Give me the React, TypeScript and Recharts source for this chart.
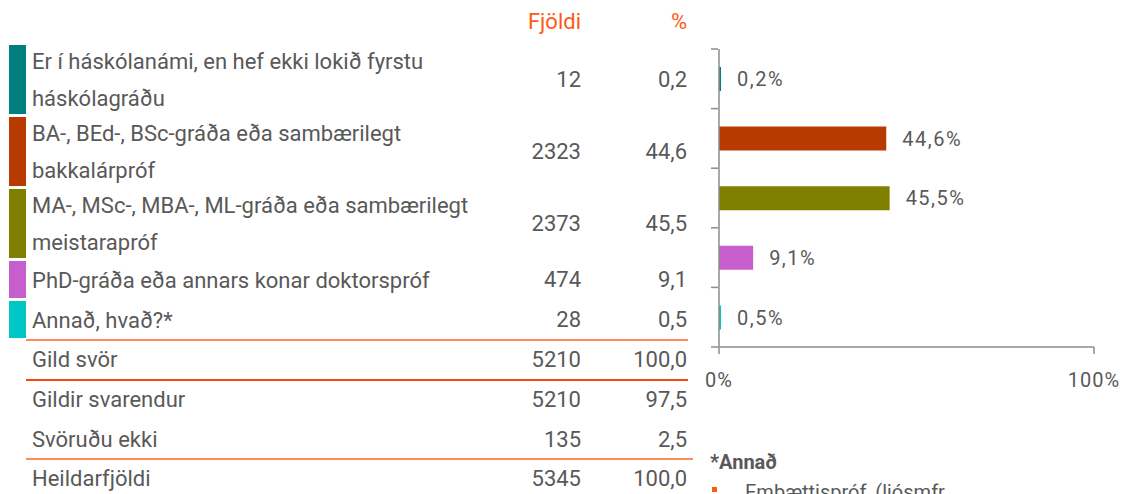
import React from 'react'
import { BarChart, Bar, XAxis, YAxis, Cell, LabelList } from 'recharts'

const categories = [
  'Er í háskólanámi, en hef ekki lokið fyrstu\nháskólagráðu',
  'BA-, BEd-, BSc-gráða eða sambærilegt\nbakkalárpróf',
  'MA-, MSc-, MBA-, ML-gráða eða sambærilegt\nmeistarapróf',
  'PhD-gráða eða annars konar doktorspróf',
  'Annað, hvað?*',
]
const counts = [12, 2323, 2373, 474, 28]
const percents = [0.2, 44.6, 45.5, 9.1, 0.5]
const colors = ['#007f7f', '#b73a00', '#7f7f00', '#c65ecb', '#00c6c6']

const summaryLabels = ['Gild svör', 'Gildir svarendur', 'Svöruðu ekki', 'Heildarfjöldi']
const summaryCounts = [5210, 5210, 135, 5345]
const summaryPercents = [100.0, 97.5, 2.5, 100.0]

const xTicks = [0, 100]
const noteTitle = '*Annað'
const noteItems = ['Embættispróf, (ljósmfr.']

const fmt = (v: number) => v.toFixed(1).replace('.', ',')

const TEXT = '#595959'
const ORANGE = '#ff5a14'
const LIGHT_LINE = '#fc8c5c'
const DARK_LINE = '#f24a0c'
const AXIS = '#8c8c8c'

// row geometry (px)
const rowTops = [45, 117, 189, 261, 301]
const rowHeights = [70, 70, 70, 38, 38]
const summaryCenters = [360, 400, 440, 479]

const font = 'Roboto, "Noto Sans", sans-serif'

// category axis: tick marks sit on the band edges, not the band centres
function EdgeTick(props: any) {
  const { x, y, index, visibleTicksCount, payload } = props
  const half = payload && payload.offset ? payload.offset : 29.8
  const last = index === (visibleTicksCount ?? categories.length) - 1
  return (
    <g>
      <line x1={x} x2={x + 7} y1={y - half} y2={y - half} stroke={AXIS} strokeWidth={1.5} />
      {last && <line x1={x} x2={x + 7} y1={y + half} y2={y + half} stroke={AXIS} strokeWidth={1.5} />}
    </g>
  )
}

export default function App() {
  const data = categories.map((c, i) => ({ name: c, value: percents[i] }))

  const cell = (text: string, right: number, center: number, color = TEXT) => (
    <div
      style={{
        position: 'absolute',
        right: 1122 - right,
        top: center - 15,
        height: 30,
        lineHeight: '30px',
        fontSize: 22,
        color,
        whiteSpace: 'nowrap',
        textAlign: 'right',
      }}
    >
      {text}
    </div>
  )

  return (
    <div
      style={{
        position: 'absolute',
        left: 0,
        top: 0,
        width: 1122,
        height: 494,
        overflow: 'hidden',
        background: '#fff',
        fontFamily: font,
      }}
    >
      {cell('Fjöldi', 581, 22, ORANGE)}
      {cell('%', 687, 22, ORANGE)}

      {categories.map((c, i) => {
        const center = rowTops[i] + rowHeights[i] / 2
        return (
          <React.Fragment key={c}>
            <div
              style={{
                position: 'absolute',
                left: 9,
                top: rowTops[i],
                width: 17,
                height: rowHeights[i] - 1,
                background: colors[i],
              }}
            />
            <div
              style={{
                position: 'absolute',
                left: 32,
                top: rowTops[i],
                height: rowHeights[i],
                display: 'flex',
                alignItems: 'center',
                whiteSpace: 'pre-line',
                fontSize: 22,
                lineHeight: '37px',
                color: TEXT,
              }}
            >
              {c}
            </div>
            {cell(String(counts[i]), 581, center)}
            {cell(fmt(percents[i]), 687, center)}
          </React.Fragment>
        )
      })}

      {summaryLabels.map((s, i) => (
        <React.Fragment key={s}>
          <div
            style={{
              position: 'absolute',
              left: 32,
              top: summaryCenters[i] - 15,
              height: 30,
              lineHeight: '30px',
              fontSize: 22,
              color: TEXT,
              whiteSpace: 'nowrap',
            }}
          >
            {s}
          </div>
          {cell(String(summaryCounts[i]), 581, summaryCenters[i])}
          {cell(fmt(summaryPercents[i]), 687, summaryCenters[i])}
        </React.Fragment>
      ))}

      <div style={{ position: 'absolute', left: 26, top: 339, width: 662, height: 2, background: LIGHT_LINE }} />
      <div style={{ position: 'absolute', left: 26, top: 379, width: 662, height: 2, background: DARK_LINE }} />
      <div style={{ position: 'absolute', left: 26, top: 458, width: 667, height: 2, background: LIGHT_LINE }} />

      <div style={{ position: 'absolute', left: 700, top: 0 }}>
        <BarChart
          width={422}
          height={494}
          data={data}
          layout="vertical"
          margin={{ top: 49, right: 28, bottom: 117, left: 9 }}
        >
          <XAxis
            type="number"
            domain={[0, 100]}
            ticks={xTicks}
            tickFormatter={(v) => `${v}%`}
            stroke={AXIS}
            strokeWidth={1.5}
            tickSize={7}
            tickMargin={19}
            height={30}
            interval={0}
            tick={{ fontSize: 20, fill: TEXT, fontFamily: font, letterSpacing: 1 }}
          />
          <YAxis
            type="category"
            dataKey="name"
            width={10}
            tickLine={false}
            axisLine={{ stroke: AXIS, strokeWidth: 1.5 }}
            tick={<EdgeTick />}
            interval={0}
          />
          <Bar dataKey="value" barSize={24} minPointSize={2} isAnimationActive={false}>
            {data.map((d, i) => (
              <Cell key={d.name} fill={colors[i]} />
            ))}
            <LabelList
              dataKey="value"
              position="right"
              offset={16}
              formatter={(v: number) => `${fmt(v)}%`}
              style={{ fontSize: 20, fill: TEXT, fontFamily: font, letterSpacing: 1.5 }}
            />
          </Bar>
        </BarChart>
      </div>

      <div
        style={{
          position: 'absolute',
          left: 710,
          top: 450,
          fontSize: 20,
          fontWeight: 700,
          color: TEXT,
          lineHeight: '24px',
        }}
      >
        {noteTitle}
      </div>
      {noteItems.map((n, i) => (
        <React.Fragment key={n}>
          <div
            style={{
              position: 'absolute',
              left: 712,
              top: 487 + i * 24,
              width: 5,
              height: 5,
              background: ORANGE,
            }}
          />
          <div
            style={{
              position: 'absolute',
              left: 745,
              top: 480 + i * 24,
              fontSize: 20,
              color: TEXT,
              lineHeight: '24px',
              whiteSpace: 'nowrap',
            }}
          >
            {n}
          </div>
        </React.Fragment>
      ))}
    </div>
  )
}
